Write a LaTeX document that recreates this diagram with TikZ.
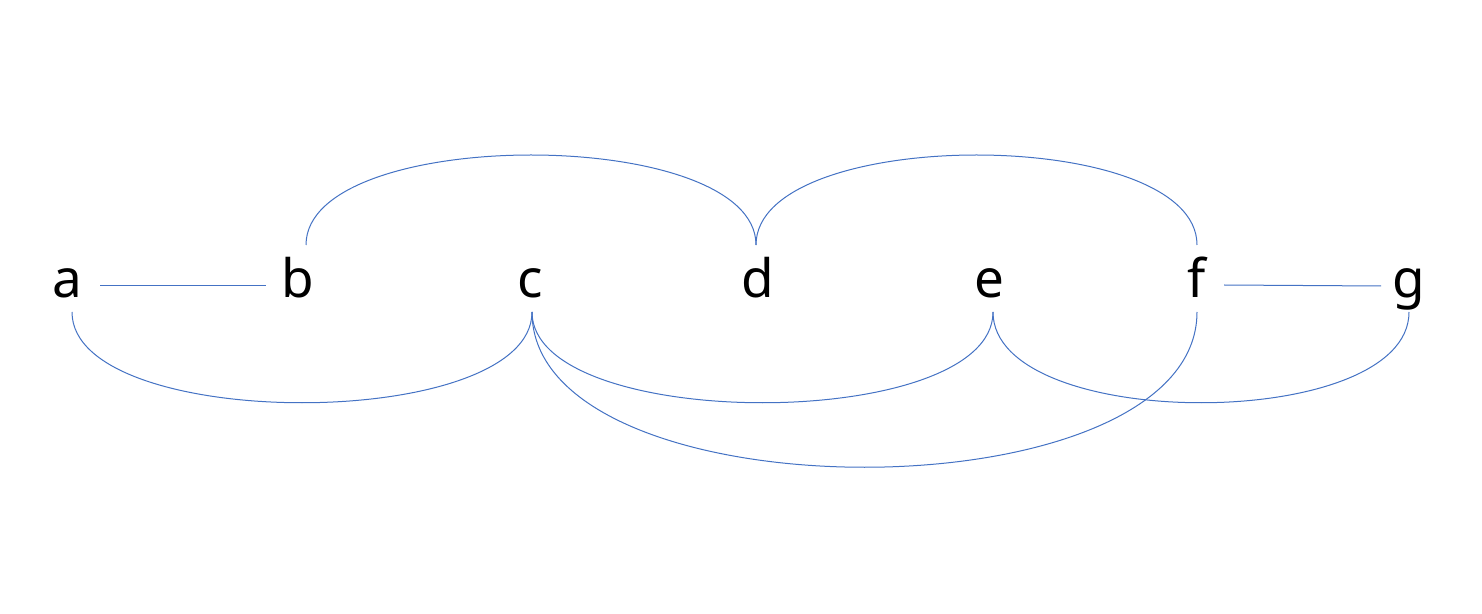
\documentclass[tikz,border=0pt]{standalone}
\usepackage{fontspec}
\setmainfont{Noto Sans}
\begin{document}
\begin{tikzpicture}[x=0.5pt,y=-0.5pt,
  lbl/.style={anchor=base,inner sep=0pt,font=\fontsize{26.5}{30}\selectfont},
  link/.style={draw={rgb,255:red,68;green,114;blue,196},line width=0.5pt}]
\useasboundingbox[fill=white] (0,0) rectangle (1482,614);
\node[lbl] (a) at (67,298) {a};
\node[lbl] (b) at (298,298) {b};
\node[lbl] (c) at (530,298) {c};
\node[lbl] (d) at (758,298) {d};
\node[lbl] (e) at (989,298) {e};
\node[lbl] (f) at (1197,298) {f};
\node[lbl] (g) at (1409,298) {g};
% endpoints
\coordinate (aS) at ([shift={(5,14)}]a.base);
\coordinate (cS) at ([shift={(2,14)}]c.base);
\coordinate (eS) at ([shift={(4,14)}]e.base);
\coordinate (fS) at ([shift={(0,14)}]f.base);
\coordinate (gS) at ([shift={(0,14)}]g.base);
\coordinate (bN) at ([shift={(8,-53)}]b.base);
\coordinate (dN) at ([shift={(-2,-53)}]d.base);
\coordinate (fN) at ([shift={(0,-53)}]f.base);
% straight links
\draw[link] ([shift={(33,-12)}]a.base) -- ([shift={(-32,-12)}]b.base);
\draw[link] ([shift={(27,-13)}]f.base) -- ([shift={(-28,-12)}]g.base);
% lower arcs
\draw[link] (aS) .. controls ([shift={(0,121)}]aS) and ([shift={(0,121)}]cS) .. (cS);
\draw[link] (cS) .. controls ([shift={(0,121)}]cS) and ([shift={(0,121)}]eS) .. (eS);
\draw[link] (eS) .. controls ([shift={(0,121)}]eS) and ([shift={(0,121)}]gS) .. (gS);
\draw[link] (cS) .. controls ([shift={(0,207)}]cS) and ([shift={(0,207)}]fS) .. (fS);
% upper arcs
\draw[link] (bN) .. controls ([shift={(0,-120)}]bN) and ([shift={(0,-120)}]dN) .. (dN);
\draw[link] (dN) .. controls ([shift={(0,-120)}]dN) and ([shift={(0,-120)}]fN) .. (fN);
\end{tikzpicture}
\end{document}
